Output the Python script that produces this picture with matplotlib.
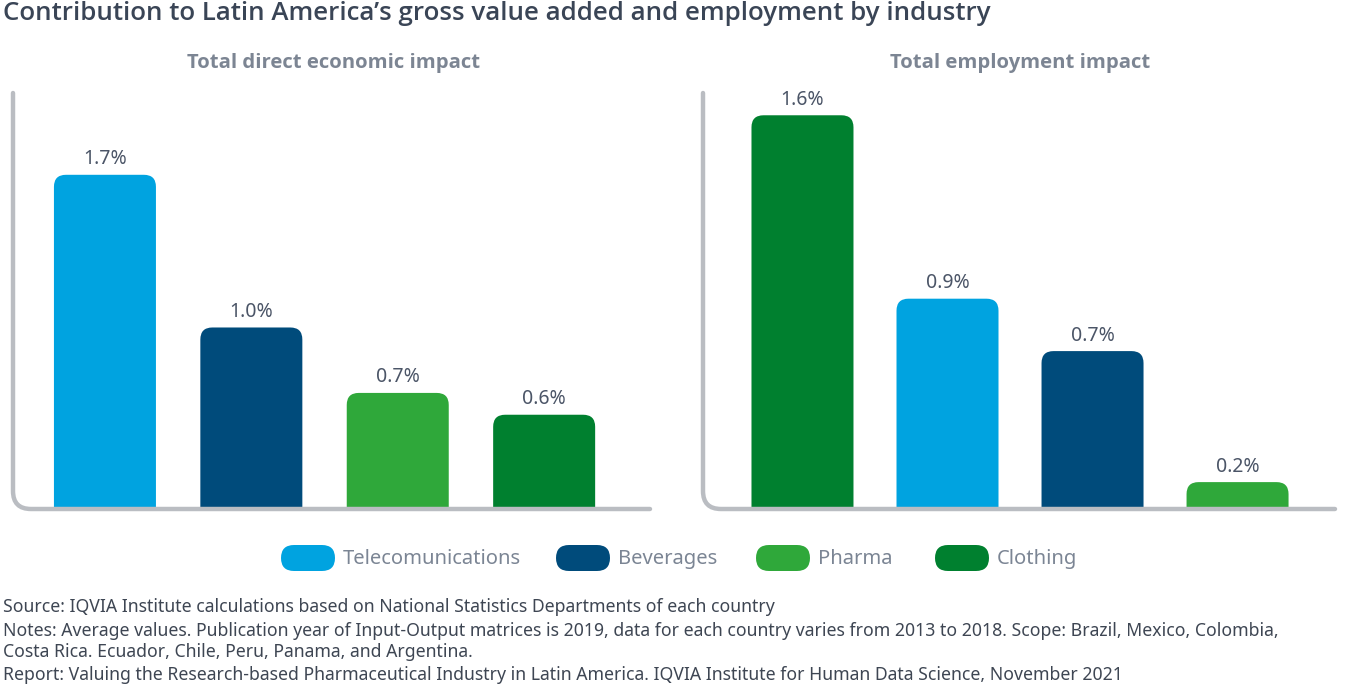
import matplotlib.pyplot as plt
from matplotlib.patches import FancyBboxPatch
from matplotlib.path import Path
from matplotlib.patches import PathPatch
from matplotlib.transforms import IdentityTransform

plt.rcParams['font.family'] = ['Noto Sans', 'DejaVu Sans']
BOLD_FONT = ['Open Sans', 'Noto Sans', 'DejaVu Sans']

# data
categories = ["Telecomunications", "Beverages", "Pharma", "Clothing"]
colors = {"Telecomunications": "#00a3e0", "Beverages": "#004b7b",
          "Pharma": "#2fa83a", "Clothing": "#00802f"}

econ_order = ["Telecomunications", "Beverages", "Pharma", "Clothing"]
econ_values = [1.7, 1.0, 0.7, 0.6]

empl_order = ["Clothing", "Telecomunications", "Beverages", "Pharma"]
empl_values = [1.6, 0.9, 0.7, 0.2]

title = "Contribution to Latin America\u2019s gross value added and employment by industry"
sub_left = "Total direct economic impact"
sub_right = "Total employment impact"
footer = [
    "Source: IQVIA Institute calculations based on National Statistics Departments of each country",
    "Notes: Average values. Publication year of Input-Output matrices is 2019, data for each country varies from 2013 to 2018. Scope: Brazil, Mexico, Colombia,",
    "Costa Rica. Ecuador, Chile, Peru, Panama, and Argentina.",
    "Report: Valuing the Research-based Pharmaceutical Industry in Latin America. IQVIA Institute for Human Data Science, November 2021",
]

W, H = 1352, 692
fig = plt.figure(figsize=(W / 100, H / 100), dpi=100)

SPINE = "#babdc2"


def px_axes(x0, x1, ytop, ybot):
    return fig.add_axes([x0 / W, 1 - ybot / H, (x1 - x0) / W, (ybot - ytop) / H])


def draw_panel(ax, order, values, xlim, ylim, x0, x1, ytop, ybot):
    ax.set_xlim(*xlim)
    ax.set_ylim(*ylim)
    ax.axis("off")
    wpx = x1 - x0
    hpx = ybot - ytop
    xpu = wpx / (xlim[1] - xlim[0])
    ypu = hpx / (ylim[1] - ylim[0])
    m = xpu / ypu
    bw = 102 / xpu
    r = 12 / xpu
    for i, (cat, v) in enumerate(zip(order, values)):
        b = ylim[0] - 0.3
        p = FancyBboxPatch((i - bw / 2, b), bw, v - b,
                           boxstyle=f"round,pad=0,rounding_size={r}",
                           mutation_aspect=m, fc=colors[cat], ec="none")
        ax.add_patch(p)
        ax.annotate(f"{v:.1f}%", (i, v), xytext=(0, 4), textcoords="offset points",
                    ha="center", va="bottom", fontsize=14, color="#4b5567")
    # rounded L-shaped axis line, in pixels
    sx, sy = x0, H - (ybot + 2)
    rad = 18
    verts = [(sx, H - ytop), (sx, sy + rad), (sx, sy), (sx + rad, sy), (x1, sy)]
    codes = [Path.MOVETO, Path.LINETO, Path.CURVE3, Path.CURVE3, Path.LINETO]
    fig.add_artist(PathPatch(Path(verts, codes), fill=False, ec=SPINE, lw=3.2,
                             capstyle="round", joinstyle="round",
                             transform=IdentityTransform()))


axL = px_axes(13, 650, 93, 507)
draw_panel(axL, econ_order, econ_values, (-0.628, 3.723), (0.177, 2.075), 13, 650, 93, 507)
axR = px_axes(703, 1335, 93, 507)
draw_panel(axR, empl_order, empl_values, (-0.686, 3.672), (0.105, 1.685), 703, 1335, 93, 507)

fig.text(3 / W, 1 - 14 / H, title, fontsize=18.6, weight="semibold", family=BOLD_FONT,
         color="#3a4556", va="center", ha="left")
fig.text(334 / W, 1 - 63 / H, sub_left, fontsize=14.6, weight="bold", family=BOLD_FONT,
         color="#7c8593", ha="center", va="center")
fig.text(1020 / W, 1 - 63 / H, sub_right, fontsize=14.6, weight="bold", family=BOLD_FONT,
         color="#7c8593", ha="center", va="center")

# legend
leg_x = [281, 556, 756, 935]
for lx, cat in zip(leg_x, categories):
    pill = FancyBboxPatch((lx / 100, (H - 571) / 100), 0.54, 0.26,
                          boxstyle="round,pad=0,rounding_size=0.13",
                          fc=colors[cat], ec="none", transform=fig.dpi_scale_trans)
    fig.add_artist(pill)
    fig.text((lx + 62) / W, 1 - 559 / H, cat, fontsize=14.5, color="#7b8594",
             ha="left", va="center")

for y, line in zip([607, 631, 652, 675], footer):
    fig.text(3 / W, 1 - y / H, line, fontsize=12.7, color="#3e4653", ha="left", va="center")

fig.savefig("out.png", dpi=100)
